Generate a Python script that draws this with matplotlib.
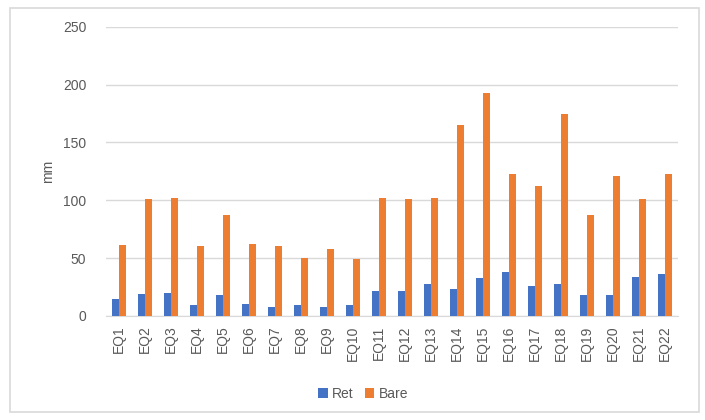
import matplotlib.pyplot as plt
import numpy as np
from matplotlib.patches import Rectangle

# chart data
categories = ['EQ%d' % i for i in range(1, 23)]
ret = [15, 19, 20, 9, 18, 10, 8, 9, 8, 9, 21.5, 21.5, 27.5, 23, 33, 38, 25.5, 27.5, 18, 18, 34, 36.5]
bare = [61, 101, 102, 60, 87, 62, 60, 50, 58, 49, 102, 101, 102, 165.5, 193, 123, 112, 174.5, 87, 121, 101, 123]
y_ticks = [0, 50, 100, 150, 200, 250]


def main():
    plt.rcParams['font.family'] = ['Liberation Sans', 'DejaVu Sans']
    grey = '#595959'

    fig = plt.figure(figsize=(7.05, 4.2), dpi=100)
    # outer chart border
    fig.patches.append(Rectangle((10 / 705, 8 / 420), 689 / 705, 404 / 420,
                                 transform=fig.transFigure, fill=False,
                                 edgecolor='#d9d9d9', linewidth=1.2))

    ax = fig.add_axes([0.150, 0.248, 0.812, 0.688])
    ind = np.arange(len(categories))
    w = 0.25
    ax.bar(ind - 0.135, ret, w, color='#4472C4', label='Ret', zorder=3)
    ax.bar(ind + 0.135, bare, w, color='#ED7D31', label='Bare', zorder=3)

    ax.set_xlim(-0.5, len(categories) - 0.5)
    ax.set_ylim(0, 250)
    ax.set_yticks(y_ticks)
    ax.set_xticks(ind)
    ax.set_xticklabels(categories, rotation=90)
    ax.tick_params(axis='both', length=0, colors=grey, labelsize=10)
    ax.tick_params(axis='y', pad=14)
    ax.tick_params(axis='x', pad=7)
    ax.yaxis.grid(True, color='#d9d9d9', linewidth=1, zorder=0)
    for s in ['top', 'right', 'left']:
        ax.spines[s].set_visible(False)
    ax.spines['bottom'].set_color('#d9d9d9')
    ax.set_ylabel('mm', color=grey, fontsize=10, labelpad=6)

    fig.legend(loc='center', bbox_to_anchor=(0.515, 0.062), ncol=2, frameon=False,
               fontsize=10, handlelength=0.7, handleheight=0.7, handletextpad=0.3,
               columnspacing=0.8, labelcolor=grey)

    fig.savefig('out.png', dpi=100)


if __name__ == '__main__':
    main()
